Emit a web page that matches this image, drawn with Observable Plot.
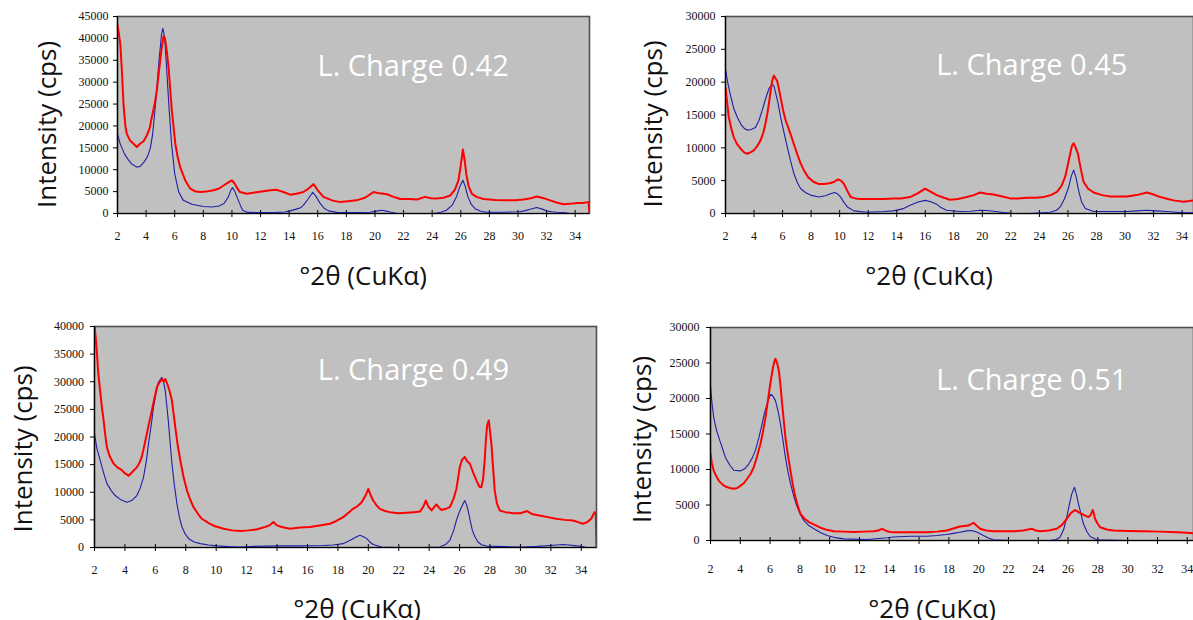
<!DOCTYPE html>
<html>
<head>
<meta charset="utf-8">
<script src="https://cdn.jsdelivr.net/npm/d3@7"></script>
<script src="https://cdn.jsdelivr.net/npm/@observablehq/plot@0.6"></script>
<style>
  html, body { margin: 0; padding: 0; background: #fff; overflow: hidden; }
  #wrap { position: relative; width: 1193px; height: 620px; }
  .panel { position: absolute; }
</style>
</head>
<body>
<div id="wrap"></div>
<script>
// ---------- data: [°2θ, intensity (cps)] ----------
const xTickValues = [2,4,6,8,10,12,14,16,18,20,22,24,26,28,30,32,34];
const yTicks45 = [0,5000,10000,15000,20000,25000,30000,35000,40000,45000];
const yTicks40 = [0,5000,10000,15000,20000,25000,30000,35000,40000];
const yTicks30 = [0,5000,10000,15000,20000,25000,30000];
const panelLabels = ["L. Charge 0.42", "L. Charge 0.45", "L. Charge 0.49", "L. Charge 0.51"];
const yTitle = "Intensity (cps)";
const xTitle = "°2θ (CuKα)";

const red042 = [[2.0,43000],[2.1,41000],[2.2,38500],[2.3,33000],[2.42,25000],[2.55,20000],[2.65,18200],[2.89,16600],[3.1,16000],[3.35,15200],[3.6,16000],[3.82,16500],[4.05,17800],[4.25,19500],[4.4,22000],[4.6,25000],[4.75,28100],[4.98,34800],[5.1,38000],[5.22,40500],[5.32,40000],[5.45,37000],[5.57,33400],[5.8,23500],[6.04,16000],[6.2,13000],[6.38,10600],[6.73,7600],[7.08,5700],[7.4,5100],[7.78,4900],[8.2,5000],[8.71,5300],[9.1,5700],[9.41,6400],[9.7,7000],[9.99,7600],[10.2,6800],[10.4,5600],[10.57,4900],[11.04,4500],[11.6,4800],[12.2,5100],[12.7,5300],[13.13,5400],[13.6,4900],[14.07,4300],[14.5,4500],[15.0,4900],[15.4,5800],[15.7,6700],[16.0,5300],[16.4,3800],[17.0,3000],[17.57,2600],[18.1,2800],[18.7,3000],[19.3,3600],[19.9,4900],[20.3,4600],[20.84,4400],[21.3,3800],[21.77,3300],[22.4,3300],[22.94,3200],[23.5,3800],[23.9,3500],[24.3,3400],[24.8,3600],[25.26,4100],[25.6,5500],[25.84,7600],[26.0,11000],[26.15,14600],[26.28,12000],[26.38,9100],[26.55,6200],[26.78,4500],[27.1,3800],[27.59,3300],[28.4,3100],[29.22,3000],[29.8,3000],[30.39,3200],[30.9,3500],[31.32,3900],[31.8,3500],[32.25,3000],[32.7,2500],[33.18,2100],[33.6,2200],[34.12,2400],[34.5,2400],[34.93,2600],[35.0,0]];
const blue042 = [[2.0,18200],[2.19,15900],[2.5,13500],[2.75,12300],[3.0,11300],[3.35,10600],[3.6,10800],[3.82,11600],[4.1,13000],[4.3,15000],[4.46,18200],[4.68,25800],[4.9,34800],[5.08,41000],[5.17,42300],[5.3,40200],[5.43,33400],[5.6,24300],[5.78,15900],[6.0,9100],[6.28,4900],[6.6,3000],[7.2,2100],[8.0,1600],[8.6,1500],[9.1,1700],[9.45,2300],[9.75,3800],[9.95,5500],[10.05,5900],[10.2,5000],[10.35,3800],[10.6,1800],[10.75,750],[11.1,250],[12.0,220],[13.0,220],[13.7,350],[14.08,600],[14.5,1000],[14.8,1300],[15.0,1900],[15.3,3200],[15.65,4850],[15.9,3800],[16.17,2300],[16.45,1200],[16.75,600],[17.33,250],[18.5,220],[19.66,300],[20.1,550],[20.48,750],[20.8,550],[21.06,350],[21.57,0],[24.13,0],[24.6,300],[25.0,750],[25.4,1900],[25.7,3800],[25.95,6300],[26.15,7600],[26.3,6300],[26.5,3800],[26.75,2000],[27.0,1100],[27.4,500],[27.8,300],[29.0,300],[30.1,400],[30.5,650],[30.8,900],[31.3,1350],[31.7,1000],[32.0,600],[32.35,400],[32.7,300],[33.2,200],[33.6,0],[35.0,0]];

const red045 = [[2.0,19200],[2.1,17200],[2.23,14700],[2.4,13000],[2.58,11600],[2.8,10600],[3.05,9900],[3.3,9300],[3.52,9100],[3.75,9300],[3.98,9600],[4.2,10200],[4.45,11100],[4.65,12300],[4.8,13700],[4.93,15200],[5.04,16700],[5.15,18500],[5.27,20200],[5.39,21000],[5.5,20600],[5.62,20200],[5.74,19000],[5.86,17700],[6.03,15800],[6.21,14200],[6.38,13200],[6.56,12100],[6.8,10500],[7.02,9100],[7.25,7700],[7.49,6600],[7.8,5500],[8.19,4800],[8.5,4500],[8.9,4500],[9.3,4600],[9.6,4800],[9.88,5200],[10.1,5000],[10.3,4500],[10.55,3400],[10.77,2500],[11.1,2300],[11.47,2200],[12.3,2200],[13.1,2200],[13.77,2300],[14.3,2300],[14.94,2500],[15.5,3100],[15.99,3800],[16.4,3300],[16.81,2800],[17.3,2400],[17.74,2100],[18.3,2200],[18.91,2500],[19.4,2800],[19.85,3200],[20.3,3000],[20.79,2900],[21.4,2600],[21.95,2300],[22.5,2300],[23.12,2400],[23.7,2400],[24.3,2500],[24.8,2800],[25.23,3300],[25.55,4200],[25.81,5600],[26.0,7500],[26.16,9100],[26.28,10300],[26.4,10700],[26.55,10000],[26.7,9100],[26.9,6800],[27.1,4800],[27.4,3800],[27.8,3200],[28.4,2800],[28.97,2600],[29.6,2600],[30.14,2600],[30.8,2800],[31.54,3200],[32.0,2900],[32.47,2500],[33.0,2200],[33.41,2000],[34.1,1800],[34.5,1900],[34.8,2000]];
const blue045 = [[2.0,22000],[2.15,20000],[2.35,18000],[2.58,16000],[2.82,14700],[3.1,13500],[3.35,12900],[3.52,12700],[3.8,12800],[4.1,13100],[4.35,14200],[4.57,15700],[4.8,17400],[5.04,19000],[5.27,19700],[5.4,19400],[5.5,18500],[5.68,16800],[5.86,14700],[6.1,12300],[6.33,10100],[6.56,8000],[6.79,6100],[7.02,4800],[7.26,3800],[7.6,3200],[7.96,2800],[8.54,2500],[9.0,2700],[9.36,3000],[9.64,3200],[9.85,3000],[10.07,2500],[10.3,1700],[10.54,1000],[11.0,400],[11.94,200],[13.1,300],[13.77,400],[14.4,700],[14.94,1260],[15.5,1750],[15.99,2000],[16.4,1800],[16.81,1400],[17.1,900],[17.5,500],[18.44,300],[19.2,350],[19.85,500],[20.3,450],[20.79,350],[21.5,150],[22.18,0],[23.36,0],[24.76,200],[25.2,500],[25.46,1000],[25.75,2200],[26.05,4000],[26.25,5800],[26.4,6600],[26.55,5600],[26.75,3500],[26.95,1800],[27.22,750],[27.8,300],[29.0,300],[30.14,300],[30.8,400],[31.54,500],[32.2,400],[32.94,300],[34.1,100],[34.8,100]];

const red049 = [[2.0,40100],[2.08,38000],[2.15,35600],[2.25,31500],[2.37,28400],[2.48,25500],[2.6,23000],[2.7,20500],[2.81,18200],[3.0,16500],[3.25,15200],[3.5,14500],[3.8,14000],[4.0,13400],[4.24,13000],[4.5,13700],[4.78,14500],[4.95,15300],[5.11,16400],[5.28,18500],[5.44,20600],[5.6,22700],[5.77,24800],[5.94,27000],[6.1,29000],[6.25,29800],[6.43,30500],[6.55,30000],[6.65,30500],[6.8,29500],[6.95,28200],[7.09,26600],[7.2,24200],[7.31,21800],[7.47,18500],[7.64,15800],[7.85,12800],[8.08,10300],[8.3,8600],[8.51,7300],[8.8,6100],[9.06,5200],[9.5,4400],[9.93,3850],[10.5,3400],[11.03,3100],[11.6,3000],[12.12,3100],[12.7,3300],[13.21,3700],[13.5,4000],[13.76,4600],[14.0,4000],[14.31,3700],[14.85,3400],[15.5,3600],[16.16,3700],[16.8,4000],[17.48,4300],[17.9,4800],[18.35,5500],[18.7,6300],[19.0,7000],[19.3,7500],[19.56,8200],[19.8,9300],[20.0,10600],[20.15,9500],[20.32,8500],[20.55,7600],[20.76,7000],[21.1,6600],[21.42,6400],[22.0,6200],[22.51,6300],[23.0,6400],[23.39,6500],[23.6,7300],[23.78,8500],[23.95,7400],[24.16,6700],[24.3,7200],[24.48,7800],[24.65,7200],[24.81,6800],[25.1,7000],[25.36,7300],[25.6,8800],[25.79,10600],[25.9,12500],[26.01,14500],[26.15,15800],[26.34,16400],[26.5,15600],[26.67,15200],[26.9,13500],[27.11,12100],[27.3,11000],[27.43,10900],[27.55,12500],[27.65,15800],[27.73,19500],[27.81,22100],[27.92,23000],[28.0,21000],[28.09,18800],[28.2,14500],[28.31,10300],[28.45,8000],[28.64,6700],[29.0,6400],[29.52,6200],[30.0,6200],[30.44,6600],[30.8,6000],[31.26,5800],[31.8,5500],[32.35,5200],[32.9,5000],[33.45,4900],[33.8,4600],[34.1,4300],[34.4,4600],[34.65,5200],[34.87,6400],[34.95,6000],[35.0,0]];
const blue049 = [[2.0,20600],[2.15,18000],[2.37,15800],[2.6,13500],[2.81,11600],[3.1,10300],[3.36,9400],[3.7,8700],[4.13,8200],[4.45,8500],[4.78,9400],[5.0,10700],[5.22,12700],[5.4,15500],[5.55,18800],[5.72,22000],[5.88,25400],[6.05,28000],[6.2,29900],[6.43,30800],[6.55,29900],[6.65,28400],[6.76,25500],[6.87,22400],[6.98,18700],[7.09,15200],[7.25,11300],[7.42,7900],[7.58,5500],[7.75,3700],[7.95,2500],[8.19,1600],[8.55,1000],[8.96,700],[9.5,450],[10.05,300],[10.8,150],[11.58,100],[12.5,200],[13.33,250],[14.2,300],[15.52,300],[16.3,320],[17.04,350],[17.7,450],[18.35,700],[18.9,1450],[19.2,1900],[19.45,2200],[19.68,1950],[19.88,1650],[20.1,1000],[20.32,550],[20.87,100],[21.86,0],[23.61,0],[24.7,100],[25.1,600],[25.36,1300],[25.6,3000],[25.79,4900],[25.95,6200],[26.12,7300],[26.34,8500],[26.45,7800],[26.56,6700],[26.7,4800],[26.84,3100],[27.0,2000],[27.21,1000],[27.45,500],[27.76,250],[29.0,150],[30.17,100],[31.1,200],[31.92,350],[32.4,450],[32.8,550],[33.2,450],[33.67,300],[34.33,50],[34.87,0],[35.0,0]];

const red051 = [[2.0,12200],[2.08,11000],[2.22,9800],[2.4,9000],[2.56,8400],[2.8,7900],[3.0,7600],[3.3,7400],[3.56,7300],[3.8,7400],[4.0,7700],[4.25,8100],[4.46,8700],[4.7,9400],[4.9,10300],[5.12,11800],[5.35,13600],[5.52,15300],[5.69,17300],[5.84,19500],[5.98,21600],[6.1,23200],[6.2,24400],[6.3,25300],[6.36,25600],[6.47,25000],[6.59,23900],[6.7,21800],[6.81,19200],[6.92,16800],[7.03,14500],[7.2,12000],[7.37,9800],[7.53,7800],[7.7,6100],[7.87,4800],[8.04,3750],[8.3,3100],[8.6,2600],[9.0,2200],[9.38,1800],[9.8,1500],[10.27,1300],[10.9,1250],[11.61,1200],[12.3,1250],[12.96,1300],[13.25,1400],[13.52,1650],[13.8,1350],[14.08,1200],[14.28,1170],[15.4,1150],[16.52,1170],[17.2,1250],[17.86,1400],[18.3,1700],[18.75,1970],[19.31,2100],[19.65,2500],[19.85,2100],[20.1,1650],[20.5,1400],[20.99,1300],[21.6,1300],[22.33,1300],[23.0,1400],[23.57,1650],[23.85,1400],[24.13,1300],[24.7,1400],[25.24,1650],[25.6,2200],[25.91,3050],[26.2,3900],[26.47,4300],[26.7,4000],[26.92,3750],[27.15,3500],[27.37,3300],[27.52,3600],[27.66,4300],[27.74,3700],[27.81,3050],[27.98,2400],[28.15,1870],[28.6,1550],[29.04,1400],[30.0,1350],[31.06,1300],[32.2,1250],[33.3,1170],[34.0,1100],[34.42,1030]];
const blue051 = [[2.0,21800],[2.1,19300],[2.22,17300],[2.38,15700],[2.56,14500],[2.8,13000],[3.0,11700],[3.3,10600],[3.56,9900],[4.0,9800],[4.3,10100],[4.57,10800],[4.8,11600],[5.01,12700],[5.25,14500],[5.46,16400],[5.63,18000],[5.79,19200],[5.95,20200],[6.06,20600],[6.2,20300],[6.36,19700],[6.53,18300],[6.7,16400],[6.87,14000],[7.03,11700],[7.2,9700],[7.37,8000],[7.6,6100],[7.82,4700],[8.05,3600],[8.27,2800],[8.6,2100],[8.94,1650],[9.4,1100],[9.83,700],[10.4,400],[10.95,230],[12.52,150],[13.86,380],[14.28,500],[15.4,600],[16.52,600],[17.2,700],[17.86,840],[18.3,1000],[18.75,1170],[19.2,1350],[19.54,1400],[19.9,1150],[20.32,700],[20.65,350],[20.99,100],[22.1,0],[24.8,0],[25.2,150],[25.46,470],[25.7,1500],[25.91,3280],[26.1,5200],[26.25,6570],[26.43,7500],[26.55,6600],[26.7,5160],[26.87,3700],[27.03,2350],[27.25,1300],[27.48,560],[27.93,100],[29.94,0],[34.42,0]];

// ---------- drawing ----------
const RED = "#ff0000";
const BLUE = "#1e1ea6";
const GRAY = "#c0c0c0";

function panel(o) {
  const frameH = o.height - o.mt - o.mb;
  const chart = Plot.plot({
    width: o.width,
    height: o.height,
    marginLeft: o.ml, marginRight: o.mr, marginTop: o.mt, marginBottom: o.mb,
    x: {domain: [2, o.xMax], axis: null},
    y: {domain: [0, o.yMax], axis: null},
    style: {background: "transparent", fontFamily: "Liberation Serif", fontSize: "12px", color: "#111", overflow: "visible"},
    marks: [
      Plot.frame({fill: GRAY, stroke: "#505050", strokeWidth: 1.6}),
      Plot.line(o.blue, {x: d => d[0], y: d => d[1], stroke: BLUE, strokeWidth: 1.1, clip: true}),
      Plot.line(o.red, {x: d => d[0], y: d => d[1], stroke: RED, strokeWidth: 2, clip: true}),
      Plot.ruleY([0], {stroke: "#000", strokeWidth: 1.2}),
      Plot.ruleX([2], {stroke: "#000", strokeWidth: 1.2}),
      Plot.ruleX(xTickValues, {x: d => d, insetTop: frameH - 3, insetBottom: -4, stroke: "#000", strokeWidth: 1}),
      Plot.axisY(o.yTicks, {tickSize: 4, tickPadding: o.yPad, tickFormat: d3.format("d"), stroke: "#000", fill: "#111", fontSize: 12}),
      Plot.axisX(xTickValues, {tickSize: 0, tickPadding: o.xPad, tickFormat: d3.format("d"), fill: "#111", fontSize: 12}),
      Plot.text([yTitle], {text: d => d, frameAnchor: "left", textAnchor: "middle", lineAnchor: "middle", rotate: -90, dx: o.ytDx, dy: o.ytDy, fontFamily: "Open Sans", fontSize: 26, fill: "#111"}),
      Plot.text([xTitle], {text: d => d, frameAnchor: "bottom", textAnchor: "middle", lineAnchor: "middle", dx: o.xtDx, dy: o.xtDy, fontFamily: "Open Sans", fontSize: 26, fill: "#111"}),
      Plot.text([o.label], {text: d => d, frameAnchor: "top-left", textAnchor: "start", lineAnchor: "middle", dx: o.lbDx, dy: o.lbDy, fontFamily: "Open Sans", fontSize: 29, fill: "#ffffff"})
    ]
  });
  const div = document.createElement("div");
  div.className = "panel";
  div.style.left = o.left + "px";
  div.style.top = o.top + "px";
  div.appendChild(chart);
  document.getElementById("wrap").appendChild(div);
}

panel({left: 0, top: 0, width: 600, height: 310, ml: 117, mr: 11, mt: 16, mb: 97,
  xMax: 35, yMax: 45000, yTicks: yTicks45, red: red042, blue: blue042, label: panelLabels[0],
  yPad: 5, xPad: 17.5, ytDx: -70, ytDy: 9.5, xtDx: 9.5, xtDy: 62.7, lbDx: 200, lbDy: 50.7});

panel({left: 600, top: 0, width: 593, height: 310, ml: 125, mr: 0, mt: 16, mb: 97,
  xMax: 34.8, yMax: 30000, yTicks: yTicks30, red: red045, blue: blue045, label: panelLabels[1],
  yPad: 6, xPad: 17.5, ytDx: -72, ytDy: 9, xtDx: -30.5, xtDy: 62.7, lbDx: 210.7, lbDy: 49.7});

panel({left: 0, top: 310, width: 600, height: 310, ml: 94, mr: 4, mt: 16, mb: 73,
  xMax: 35, yMax: 40000, yTicks: yTicks40, red: red049, blue: blue049, label: panelLabels[2],
  yPad: 6.5, xPad: 17.5, ytDx: -70.5, ytDy: 12, xtDx: 11.5, xtDy: 61.7, lbDx: 223.3, lbDy: 44});

panel({left: 600, top: 310, width: 593, height: 310, ml: 110, mr: 0, mt: 17, mb: 80,
  xMax: 34.42, yMax: 30000, yTicks: yTicks30, red: red051, blue: blue051, label: panelLabels[3],
  yPad: 7, xPad: 24, ytDx: -68, ytDy: 5.5, xtDx: -20, xtDy: 68.7, lbDx: 225.7, lbDy: 53.7});
</script>
</body>
</html>
